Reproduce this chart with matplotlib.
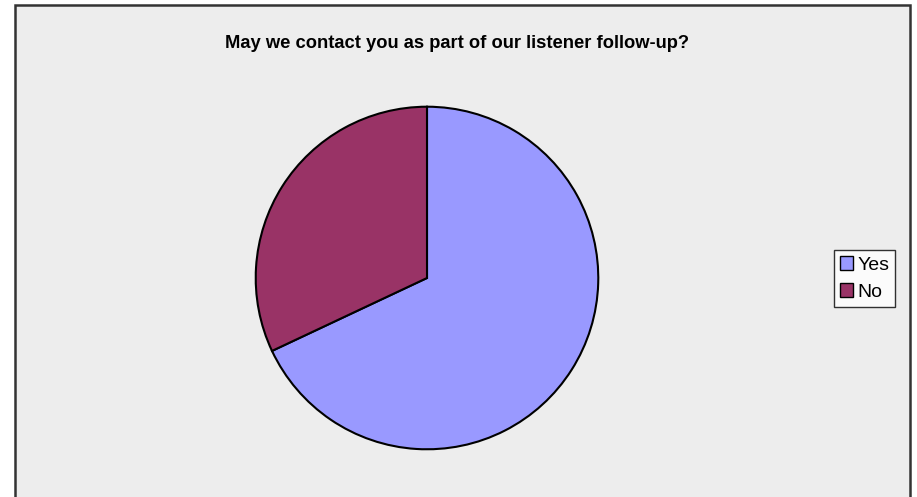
import matplotlib.pyplot as plt
from matplotlib.patches import Rectangle

plt.rcParams['font.family'] = ['Liberation Sans', 'DejaVu Sans']

title = 'May we contact you as part of our listener follow-up?'
labels = ['Yes', 'No']
values = [68, 32]
colors = ['#9999FF', '#993366']

W, H = 917, 497
fig = plt.figure(figsize=(W / 100, H / 100), dpi=100)
fig.patch.set_facecolor('white')

# chart area frame (bottom edge runs off the image)
frame = Rectangle((15 / W, -0.05), (910 - 15) / W, (H - 5) / H + 0.05,
                  transform=fig.transFigure, facecolor='#EDEDED',
                  edgecolor='#333333', linewidth=1.8, zorder=-10)
fig.patches.append(frame)

cx, cy, r = 427, 278, 173
ax = fig.add_axes([(cx - r) / W, (H - cy - r) / H, 2 * r / W, 2 * r / H])
ax.set_zorder(5)
wedges, _ = ax.pie(values, colors=colors, startangle=90, counterclock=False,
                   radius=1, wedgeprops=dict(edgecolor='black', linewidth=1.5))
ax.set_xlim(-1.01, 1.01)
ax.set_ylim(-1.01, 1.01)
ax.set_aspect('auto')
ax.axis('off')

fig.text(457 / W, 1 - 43 / H, title, ha='center', va='center',
         fontsize=13.2, fontweight='bold')

leg = fig.legend(wedges, labels, loc='center', bbox_to_anchor=(864.5 / W, 1 - 278.5 / H),
                 fontsize=14, frameon=True, fancybox=False, handlelength=0.7,
                 handleheight=0.7, handletextpad=0.2, borderpad=0.3,
                 labelspacing=0.5, borderaxespad=0)
leg.set_zorder(6)
leg.get_frame().set_edgecolor('black')
leg.get_frame().set_linewidth(1)
leg.get_frame().set_facecolor('white')
for h in leg.legend_handles:
    h.set_edgecolor('black')
    h.set_linewidth(1)

fig.savefig('out.png', dpi=100)
